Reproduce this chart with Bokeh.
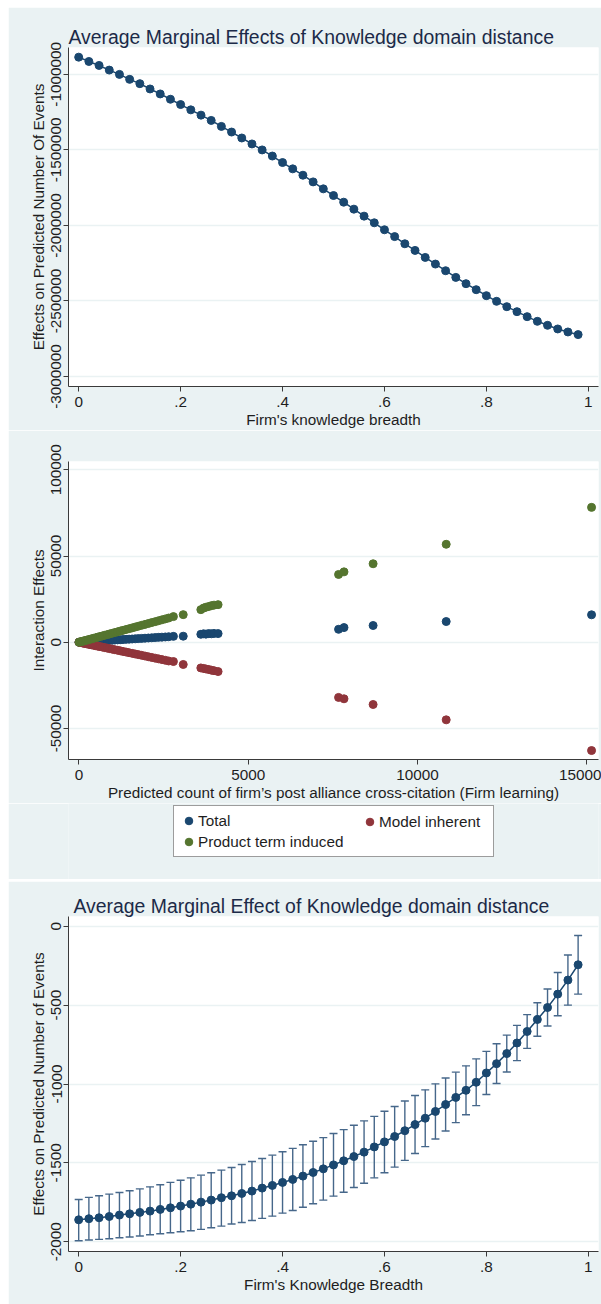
from bokeh.plotting import figure
from bokeh.models import (Range1d, FixedTicker, Whisker, TeeHead, ColumnDataSource,
                          Legend, LegendItem)
from bokeh.layouts import column
from bokeh.embed import file_html
from bokeh.resources import INLINE

# ---------------- data ----------------
breadth = [0.00, 0.02, 0.04, 0.06, 0.08, 0.10, 0.12, 0.14, 0.16, 0.18,
           0.20, 0.22, 0.24, 0.26, 0.28, 0.30, 0.32, 0.34, 0.36, 0.38,
           0.40, 0.42, 0.44, 0.46, 0.48, 0.50, 0.52, 0.54, 0.56, 0.58,
           0.60, 0.62, 0.64, 0.66, 0.68, 0.70, 0.72, 0.74, 0.76, 0.78,
           0.80, 0.82, 0.84, 0.86, 0.88, 0.90, 0.92, 0.94, 0.96, 0.98]

me_top = [-886000, -914500, -940800, -971500, -1000000, -1032900, -1061400, -1096500, -1129400, -1164500,
          -1199600, -1234700, -1269700, -1304800, -1344300, -1381600, -1421000, -1460400, -1500000, -1540500,
          -1583500, -1625300, -1667400, -1711500, -1757700, -1801800, -1845900, -1892000, -1938300, -1982400,
          -2028600, -2073800, -2121200, -2165200, -2211500, -2255500, -2299600, -2343700, -2385500, -2425200,
          -2464800, -2502200, -2537500, -2570600, -2603600, -2634500, -2660900, -2685100, -2705000, -2722600]

cites = [0, 30, 60, 100, 140, 180, 230, 280, 330, 380,
         440, 500, 560, 620, 690, 760, 830, 900, 980, 1060,
         1140, 1220, 1300, 1390, 1480, 1570, 1660, 1750, 1850, 1950,
         2050, 2150, 2250, 2350, 2450, 2550, 2650, 2790, 3080,
         3600, 3680, 3750, 3830, 3910, 3990, 4110,
         7670, 7830, 8690, 10850, 15145]
total = [0, 40, 70, 120, 170, 210, 280, 330, 400, 450,
         530, 600, 670, 750, 830, 910, 1000, 1080, 1170, 1270,
         1370, 1470, 1560, 1670, 1770, 1880, 1990, 2100, 2220, 2340,
         2460, 2580, 2700, 2820, 2940, 3060, 3180, 3400, 3500,
         4600, 4900, 4700, 5000, 4900, 5100, 5000,
         7500, 8500, 9700, 12000, 15900]
model_inherent = [0, -120, -250, -410, -570, -740, -940, -1150, -1350, -1560,
                  -1800, -2050, -2300, -2540, -2830, -3120, -3400, -3690, -4020, -4350,
                  -4670, -5000, -5330, -5700, -6070, -6440, -6810, -7180, -7590, -8000,
                  -8410, -8820, -9230, -9640, -10050, -10460, -10870, -11200, -12900,
                  -14900, -15200, -15500, -15800, -16200, -16500, -17000,
                  -32000, -32800, -36100, -45000, -62800]
product_term = [0, 160, 320, 530, 740, 950, 1220, 1480, 1750, 2010,
                2330, 2650, 2970, 3290, 3660, 4030, 4400, 4770, 5190, 5620,
                6040, 6470, 6890, 7370, 7840, 8320, 8800, 9280, 9810, 10340,
                10870, 11400, 11930, 12460, 12990, 13520, 14050, 14860, 16000,
                18900, 19800, 20300, 20700, 21200, 21500, 21800,
                39300, 40800, 45500, 56800, 78200]

me_bot = [-1861, -1854, -1848, -1840, -1831, -1823, -1814, -1806, -1795, -1785,
          -1774, -1762, -1749, -1736, -1721, -1709, -1694, -1679, -1660, -1643,
          -1624, -1605, -1584, -1561, -1538, -1513, -1487, -1460, -1432, -1399,
          -1367, -1333, -1296, -1257, -1217, -1174, -1130, -1085, -1040, -989,
          -930, -871, -807, -740, -667, -591, -515, -430, -341, -244]
ci_upper = [-1732, -1719, -1709, -1698, -1688, -1677, -1665, -1652, -1639, -1624,
            -1610, -1595, -1578, -1563, -1546, -1529, -1510, -1491, -1472, -1451,
            -1430, -1408, -1385, -1363, -1340, -1314, -1289, -1262, -1234, -1205,
            -1173, -1143, -1108, -1073, -1037, -999, -962, -925, -885, -841,
            -793, -745, -690, -628, -560, -485, -398, -293, -182, -58]
ci_lower = [-1994, -1989, -1985, -1981, -1975, -1970, -1964, -1956, -1949, -1943,
            -1937, -1930, -1922, -1911, -1901, -1888, -1878, -1865, -1852, -1838,
            -1819, -1802, -1781, -1759, -1736, -1711, -1686, -1656, -1629, -1595,
            -1563, -1527, -1484, -1441, -1397, -1349, -1298, -1245, -1195, -1137,
            -1067, -997, -924, -852, -774, -697, -632, -567, -500, -430]

x_ticks_b = [0, 0.2, 0.4, 0.6, 0.8, 1]
x_labels_b = ["0", ".2", ".4", ".6", ".8", "1"]
y_ticks_1 = [-3000000, -2500000, -2000000, -1500000, -1000000]
y_labels_1 = ["-3000000", "-2500000", "-2000000", "-1500000", "-1000000"]
x_ticks_2 = [0, 5000, 10000, 15000]
x_labels_2 = ["0", "5000", "10000", "15000"]
y_ticks_2 = [-50000, 0, 50000, 100000]
y_labels_2 = ["-50000", "0", "50000", "100000"]
y_ticks_3 = [-2000, -1500, -1000, -500, 0]
y_labels_3 = ["-2000", "-1500", "-1000", "-500", "0"]

# ---------------- style ----------------
BG = "#EAF2F3"
NAVY = "#1a476f"
MAROON = "#90353b"
GREEN = "#55752f"
FONT = "Liberation Sans"
TXT = "#1e1e1e"
TITLE_C = "#1c2a48"
AX = "#3a3a3a"
FS = "15.3px"


def style(p, xt, xl, yt, yl, xtitle, ytitle):
    p.background_fill_color = "white"
    p.border_fill_color = BG
    p.outline_line_color = None
    p.xgrid.visible = False
    p.ygrid.ticker = FixedTicker(ticks=yt)
    p.ygrid.grid_line_color = BG
    p.ygrid.grid_line_width = 1.5
    p.xaxis.ticker = FixedTicker(ticks=xt)
    p.yaxis.ticker = FixedTicker(ticks=yt)
    p.xaxis.major_label_overrides = {t: l for t, l in zip(xt, xl)}
    p.yaxis.major_label_overrides = {t: l for t, l in zip(yt, yl)}
    p.yaxis.major_label_orientation = "vertical"
    for ax in (p.xaxis, p.yaxis):
        ax.axis_line_color = AX
        ax.axis_line_width = 1
        ax.major_tick_line_color = AX
        ax.major_tick_in = 0
        ax.major_tick_out = 5
        ax.minor_tick_line_color = None
        ax.major_label_text_font = FONT
        ax.major_label_text_font_size = FS
        ax.major_label_text_color = TXT
        ax.axis_label_text_font = FONT
        ax.axis_label_text_font_size = FS
        ax.axis_label_text_font_style = "normal"
        ax.axis_label_text_color = TXT
    p.xaxis.axis_label = xtitle
    p.yaxis.axis_label = ytitle
    p.xaxis.major_label_standoff = 5
    p.xaxis.axis_label_standoff = 1
    p.yaxis.major_label_standoff = 2
    p.yaxis.axis_label_standoff = 2


def style_title(p, text, standoff, offset):
    p.title.text = text
    p.title.text_font = FONT
    p.title.text_font_size = "19.4px"
    p.title.text_font_style = "normal"
    p.title.text_color = TITLE_C
    p.title.align = "left"
    p.title.standoff = standoff
    p.title.offset = offset


# ---------------- panel 1 ----------------
p1 = figure(width=593, height=423, x_range=Range1d(-0.02, 1.02),
            y_range=Range1d(-3066000, -822000),
            min_border_left=60, min_border_right=3, min_border_top=40, min_border_bottom=44,
            output_backend="svg", toolbar_location=None)
style(p1, x_ticks_b, x_labels_b, y_ticks_1, y_labels_1,
      "Firm's knowledge breadth", "Effects on Predicted Number Of Events")
style_title(p1, "Average Marginal Effects of Knowledge domain distance", 0, 0)
src1 = ColumnDataSource(dict(x=breadth, y=me_top))
p1.line("x", "y", source=src1, line_color=NAVY, line_width=1.5)
p1.scatter("x", "y", source=src1, size=8, fill_color=NAVY, line_color=NAVY)
p1.margin = (7, 0, 0, 8)

# ---------------- panel 2 ----------------
p2 = figure(width=593, height=373, x_range=Range1d(-310, 15350),
            y_range=Range1d(-68000, 104800),
            min_border_left=60, min_border_right=3, min_border_top=31, min_border_bottom=44,
            output_backend="svg", toolbar_location=None)
style(p2, x_ticks_2, x_labels_2, y_ticks_2, y_labels_2,
      "Predicted count of firm\u2019s post alliance cross-citation (Firm learning)",
      "Interaction Effects")
src2 = ColumnDataSource(dict(x=cites, tot=total, mod=model_inherent, prod=product_term))
p2.scatter("x", "tot", source=src2, size=8, fill_color=NAVY, line_color=NAVY)
p2.scatter("x", "mod", source=src2, size=8, fill_color=MAROON, line_color=MAROON)
p2.scatter("x", "prod", source=src2, size=8, fill_color=GREEN, line_color=GREEN)
p2.margin = (0, 0, 0, 8)

# legend strip (continues panel 2's background); its glyph renderers hold no visible data
pl = figure(width=593, height=76, x_range=Range1d(0, 1), y_range=Range1d(0, 1),
            min_border=0, x_axis_location=None, y_axis_location=None,
            output_backend="svg", toolbar_location=None)
pl.background_fill_color = BG
pl.border_fill_color = BG
pl.outline_line_color = None
pl.grid.visible = False
nan = float("nan")
empty = ColumnDataSource(dict(x=[nan], y=[nan]))
g_tot = pl.scatter("x", "y", source=empty, size=8, fill_color=NAVY, line_color=NAVY)
g_mod = pl.scatter("x", "y", source=empty, size=8, fill_color=MAROON, line_color=MAROON)
g_prod = pl.scatter("x", "y", source=empty, size=8, fill_color=GREEN, line_color=GREEN)
common = dict(orientation="vertical", padding=5, spacing=2, glyph_width=19, glyph_height=19,
              label_height=18, label_standoff=0, label_text_font=FONT,
              label_text_font_size=FS, label_text_color=TXT, margin=0)
legA = Legend(items=[LegendItem(label="Total", renderers=[g_tot], index=0),
                     LegendItem(label="Product term induced", renderers=[g_prod], index=0)],
              location=(105, 22), border_line_color=AX, border_line_width=1,
              background_fill_color="white", background_fill_alpha=1,
              label_width=290, **common)
legB = Legend(items=[LegendItem(label="Model inherent", renderers=[g_mod], index=0)],
              location=(292, 48), border_line_color=None, background_fill_alpha=0,
              **common)
pl.add_layout(legA, "center")
pl.add_layout(legB, "center")
pl.margin = (0, 0, 0, 8)

# ---------------- panel 3 ----------------
p3 = figure(width=593, height=423, x_range=Range1d(-0.02, 1.02),
            y_range=Range1d(-2062, 62),
            min_border_left=60, min_border_right=3, min_border_top=35, min_border_bottom=53,
            output_backend="svg", toolbar_location=None)
style(p3, x_ticks_b, x_labels_b, y_ticks_3, y_labels_3,
      "Firm's Knowledge Breadth", "Effects on Predicted Number of Events")
style_title(p3, "Average Marginal Effect of Knowledge domain distance", 0, 5)
src3 = ColumnDataSource(dict(x=breadth, y=me_bot, lo=ci_lower, hi=ci_upper))
WC = "#46678a"
wh = Whisker(source=src3, base="x", upper="hi", lower="lo", line_color=WC, line_width=1.4,
             upper_head=TeeHead(size=8, line_color=WC, line_width=1.4),
             lower_head=TeeHead(size=8, line_color=WC, line_width=1.4))
p3.add_layout(wh)
p3.line("x", "y", source=src3, line_color=NAVY, line_width=1.5)
p3.scatter("x", "y", source=src3, size=8, fill_color=NAVY, line_color=NAVY)
p3.margin = (2, 0, 0, 8)

layout = column(p1, p2, pl, p3, spacing=0)
open("out.html", "w").write(file_html(layout, INLINE))
